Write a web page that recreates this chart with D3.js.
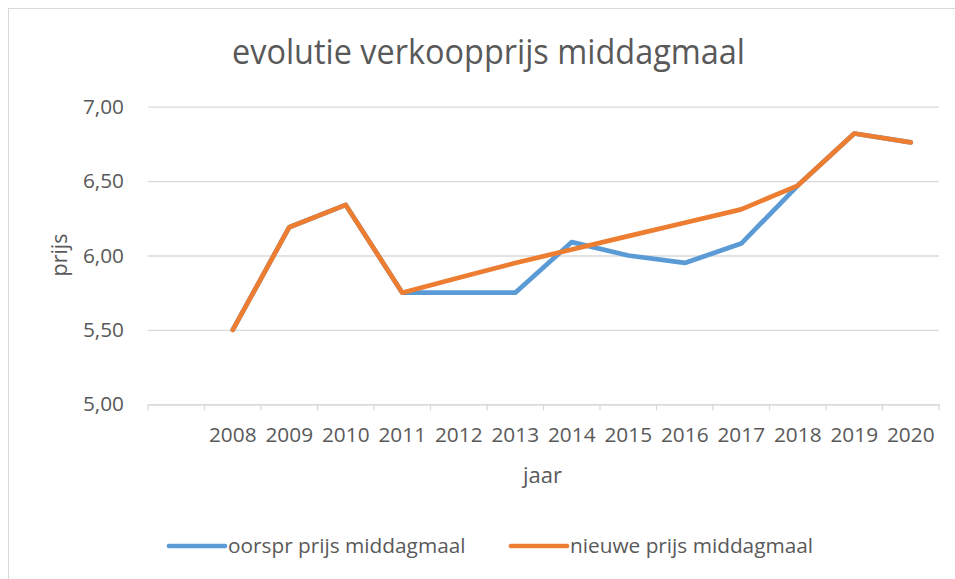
<!DOCTYPE html>
<html>
<head>
<meta charset="utf-8">
<script src="https://cdn.jsdelivr.net/npm/d3@7"></script>
<style>
  body { margin: 0; background: #fff; }
  text { font-family: "Open Sans", sans-serif; fill: #595959; }
</style>
</head>
<body>
<svg id="chart" width="955" height="579"></svg>
<script>
// data
const years = ["", "2008", "2009", "2010", "2011", "2012", "2013", "2014", "2015", "2016", "2017", "2018", "2019", "2020"];
const oorspr = [null, 5.50, 6.19, 6.34, 5.75, 5.75, 5.75, 6.09, 6.00, 5.95, 6.08, 6.47, 6.82, 6.76];
const nieuwe = [null, 5.50, 6.19, 6.34, 5.75, 5.85, 5.95, 6.04, 6.13, 6.22, 6.31, 6.47, 6.82, 6.76];
const yTicks = [5.00, 5.50, 6.00, 6.50, 7.00];
const seriesNames = ["oorspr prijs middagmaal", "nieuwe prijs middagmaal"];
const colors = ["#5B9BD5", "#ED7D31"];

const svg = d3.select('#chart');
const plotLeft = 148, plotRight = 939, plotTop = 106.7, plotBottom = 404.3;
const labelSize = 20.8;

// chart border
svg.append('rect')
  .attr('x', 8.5).attr('y', 8.5)
  .attr('width', 1000).attr('height', 1000)
  .attr('fill', '#fff')
  .attr('stroke', '#d9d9d9');

const nl = d3.formatLocale({ decimal: ',', thousands: '.', grouping: [3], currency: ['€', ''] });

const x = d3.scaleBand().domain(years).range([plotLeft, plotRight]).padding(0);
const y = d3.scaleLinear().domain([5, 7]).range([plotBottom, plotTop]);

// gridlines + y labels
const yAxis = svg.append('g')
  .attr('transform', 'translate(' + plotLeft + ',0)')
  .call(d3.axisLeft(y).tickValues(yTicks).tickSize(-(plotRight - plotLeft)).tickPadding(24).tickFormat(nl.format('.2f')));
yAxis.select('.domain').remove();
yAxis.selectAll('line').attr('stroke', '#d9d9d9').attr('stroke-width', 1.3);
yAxis.selectAll('text').attr('font-size', labelSize).attr('fill', '#595959').attr('font-family', 'Open Sans');

// x axis
const xAxis = svg.append('g')
  .attr('transform', 'translate(0,' + plotBottom + ')')
  .call(d3.axisBottom(x).tickSize(0).tickPadding(23));
xAxis.select('.domain').attr('stroke', '#d9d9d9').attr('stroke-width', 1.3);
xAxis.selectAll('text').attr('font-size', labelSize).attr('fill', '#595959').attr('font-family', 'Open Sans');

// tick marks at band boundaries
const bounds = years.map(d => x(d)).concat([x.range()[1]]);
svg.append('g').selectAll('line')
  .data(bounds)
  .enter()
  .append('line')
  .attr('x1', d => d).attr('x2', d => d)
  .attr('y1', plotBottom).attr('y2', plotBottom + 6)
  .attr('stroke', '#d9d9d9').attr('stroke-width', 1.3);

// lines
const line = d3.line()
  .defined(d => d[1] !== null)
  .x(d => x(d[0]) + x.bandwidth() / 2)
  .y(d => y(d[1]));

[oorspr, nieuwe].forEach(function (vals, i) {
  svg.append('path')
    .datum(years.map((yr, j) => [yr, vals[j]]))
    .attr('d', line)
    .attr('fill', 'none')
    .attr('stroke', colors[i])
    .attr('stroke-width', 4.7)
    .attr('stroke-linejoin', 'round')
    .attr('stroke-linecap', 'round');
});

// titles
svg.append('text')
  .attr('x', 488.5).attr('y', 64)
  .attr('text-anchor', 'middle')
  .attr('font-size', 34)
  .attr('textLength', 513)
  .attr('lengthAdjust', 'spacingAndGlyphs')
  .text('evolutie verkoopprijs middagmaal');

svg.append('text')
  .attr('x', 542.5).attr('y', 483)
  .attr('text-anchor', 'middle')
  .attr('font-size', 22)
  .text('jaar');

svg.append('text')
  .attr('transform', 'translate(67,255) rotate(-90)')
  .attr('text-anchor', 'middle')
  .attr('font-size', 21.5)
  .text('prijs');

// legend
const legendX = [169, 511];
const legend = svg.append('g').selectAll('g')
  .data(seriesNames)
  .enter()
  .append('g')
  .attr('transform', (d, i) => 'translate(' + legendX[i] + ',546)');
legend.append('line')
  .attr('x1', 0).attr('x2', 56)
  .attr('stroke', (d, i) => colors[i])
  .attr('stroke-width', 4.7)
  .attr('stroke-linecap', 'round');
legend.append('text')
  .attr('x', 59).attr('y', 7)
  .attr('font-size', labelSize)
  .text(d => d);
</script>
</body>
</html>
